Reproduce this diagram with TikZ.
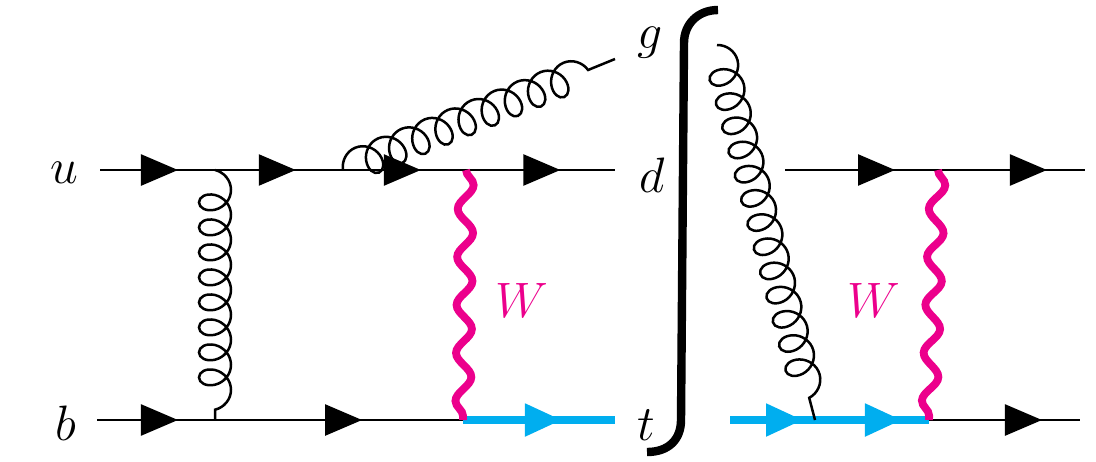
\documentclass[tikz,border=0pt]{standalone}
\usetikzlibrary{decorations.pathmorphing,decorations.markings,arrows.meta}
\definecolor{wmag}{HTML}{EC008C}
\definecolor{tblue}{HTML}{00AEEF}
\tikzset{
  fermion/.style={line width=1.25pt, black},
  topq/.style={line width=4pt, tblue},
  wboson/.style={line width=3.9pt, wmag, decorate,
    decoration={snake, amplitude=3.9pt, segment length=24pt}},
  gluon/.style={line width=1.25pt, black, decorate,
    decoration={coil, amplitude=8pt, segment length=12.5pt, aspect=0.85}},
  arr/.style={postaction={decorate, decoration={markings,
    mark=at position #1 with {\arrow{Triangle[length=18.5pt,width=15.5pt]}}}}},
  lab/.style={anchor=base, inner sep=0pt, font=\fontsize{30.5}{36}\selectfont},
  bracket/.style={line width=4.2pt, black},
}
\begin{document}
\begin{tikzpicture}[x=0.5pt, y=-0.5pt]
\useasboundingbox (0,0) rectangle (1096,461);
% left diagram vertices
\coordinate (ui) at (100,170);
\coordinate (v1) at (215,170);
\coordinate (v2) at (343,170);
\coordinate (v3) at (466,170);
\coordinate (do) at (615,170);
\coordinate (bi) at (97,420);
\coordinate (v4) at (215,420);
\coordinate (v5) at (463,420);
\coordinate (to) at (615,420);
\coordinate (go) at (615,59);
% right diagram vertices
\coordinate (ri) at (785,170);
\coordinate (r1) at (938,170);
\coordinate (ro) at (1085,170);
\coordinate (rti) at (730,420);
\coordinate (r2) at (815,420);
\coordinate (r3) at (929,420);
\coordinate (rbo) at (1080,420);
\coordinate (rg) at (717,45);
% labels
\node[lab] (lu) at (64,183) {$u$};
\node[lab] (lb) at (66,440) {$b$};
\node[lab] (lg) at (650,48) {$g$};
\node[lab] (ld) at (652,192) {$d$};
\node[lab] (lt) at (646,440) {$t$};
\node[lab, text=wmag] (w1) at (522,317) {$W$};
\node[lab, text=wmag] (w2) at (874,317) {$W$};
% left fermions
\draw[fermion, arr=0.678] (ui) -- (v1);
\draw[fermion, arr=0.631] (v1) -- (v2);
\draw[fermion, arr=0.633] (v2) -- (v3);
\draw[fermion, arr=0.633] (v3) -- (do);
\draw[fermion, arr=0.686] (bi) -- (v4);
\draw[fermion, arr=0.593] (v4) -- (v5);
\draw[topq, arr=0.651] (v5) -- (to);
% right fermions
\draw[fermion, arr=0.719] (ri) -- (r1);
\draw[fermion, arr=0.741] (r1) -- (ro);
\draw[topq, arr=0.859] (rti) -- (r2);
\draw[topq, arr=0.763] (r2) -- (r3);
\draw[fermion, arr=0.748] (r3) -- (rbo);
% bosons
\draw[gluon] (v1) -- (v4);
\draw[gluon, decoration={post length=6pt}] (v2) -- (go);
\draw[gluon] (rg) -- (r2);
\draw[wboson] (v3) -- (v5);
\draw[wboson] (r1) -- (r3);
% cut bracket
\draw[bracket] (718,10) .. controls (698,10) and (684,24) .. (684,43) -- (681,420) .. controls (681,440) and (668,452) .. (647,452);
\end{tikzpicture}
\end{document}
